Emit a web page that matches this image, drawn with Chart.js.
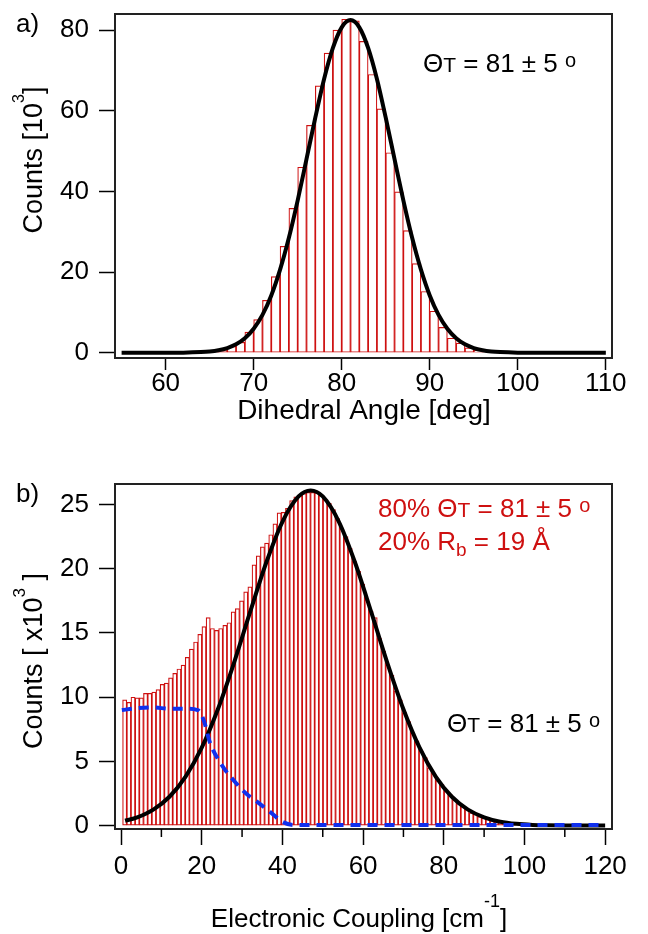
<!DOCTYPE html>
<html>
<head>
<meta charset="utf-8">
<script src="https://cdn.jsdelivr.net/npm/chart.js@4.4.0/dist/chart.umd.min.js"></script>
<style>
html, body { margin: 0; padding: 0; background: #fff; }
#wrap { position: relative; width: 648px; height: 934px; }
canvas { position: absolute; left: 0; }
</style>
</head>
<body>
<div id="wrap">
<canvas id="cA" width="648" height="465" style="top:0"></canvas>
<canvas id="cB" width="648" height="469" style="top:465px"></canvas>
</div>
<script>
// a) dihedral angle histogram, 1 deg bins, counts in 10^3
var angleBins = [64.5, 65.5, 66.5, 67.5, 68.5, 69.5, 70.5, 71.5, 72.5, 73.5, 74.5, 75.5, 76.5, 77.5, 78.5, 79.5, 80.5,
                 81.5, 82.5, 83.5, 84.5, 85.5, 86.5, 87.5, 88.5, 89.5, 90.5, 91.5, 92.5, 93.5, 94.5, 95.5, 96.5, 97.5];
var angleCounts = [0.1, 0.3, 0.8, 1.6, 2.6, 5.1, 8.2, 13.0, 18.9, 26.4, 35.8, 46.0, 56.4, 66.2, 74.3, 80.0, 82.7,
                   82.3, 77.2, 69.0, 60.5, 49.6, 39.9, 30.3, 22.1, 15.2, 10.3, 6.3, 3.6, 2.4, 1.2, 0.6, 0.3, 0.1];
var angleFitX = [55, 60, 62, 64, 65, 66, 67, 68, 69, 70, 71, 72, 73, 74, 75, 76, 77, 78, 79, 80, 81,
                 82, 83, 84, 85, 86, 87, 88, 89, 90, 91, 92, 93, 94, 95, 96, 97, 98, 100, 102, 105, 110];
var angleFitY = [0, 0.01, 0.03, 0.16, 0.32, 0.63, 1.17, 2.1, 3.6, 5.97, 9.4, 14.2, 20.6, 28.5, 37.8, 48.0, 58.3, 67.9, 75.6, 80.7, 82.5,
                 80.7, 75.6, 67.9, 58.3, 48.0, 37.8, 28.5, 20.6, 14.2, 9.4, 5.97, 3.6, 2.1, 1.17, 0.63, 0.32, 0.16, 0.03, 0.01, 0, 0];
var angleTicksX = [60, 70, 80, 90, 100, 110];
var angleTicksY = [0, 20, 40, 60, 80];

// b) electronic coupling histogram, counts in 10^3
var couplingBinStart = 0.9, couplingBinWidth = 1.035;
var couplingCounts = [9.8, 9.6, 10.0, 9.95, 9.95, 10.3, 10.3, 10.4, 10.6, 11.0, 11.1, 11.5, 11.85, 12.2, 12.5, 13.1,
                      13.75, 14.3, 14.9, 15.5, 16.2, 15.35, 15.2, 15.35, 15.6, 15.8, 16.65, 16.9,
                      17.5, 18.2, 18.6, 20.3, 21.0, 21.7, 22.0, 22.65, 23.5, 24.35, 24.4, 24.7, 25.3, 25.6, 25.7,
                      25.85, 25.95, 25.95, 25.9, 25.7, 25.4,
                      25.1, 24.6, 23.9, 23.1, 22.5, 21.6, 20.6, 19.8, 18.8, 17.6, 16.7, 16.2, 14.6, 13.6, 12.5, 11.7,
                      10.5, 9.8, 8.8, 8.1, 7.2, 6.6, 5.8, 5.3, 4.5, 4.1, 3.5, 3.2, 2.7, 2.4, 2.0, 1.8, 1.5, 1.3, 1.0,
                      0.9, 0.7, 0.6, 0.5, 0.4, 0.3, 0.25, 0.2, 0.15, 0.1, 0.08];
var couplingFitX = [1, 4, 8, 12, 16, 20, 24, 28, 32, 36, 40, 44, 47, 50, 54, 58, 62, 66, 70, 74, 78, 82, 86, 90,
                    94, 98, 102, 106, 110, 115, 120];
var couplingFitY = [0.38, 0.65, 1.25, 2.25, 3.82, 6.07, 9.06, 12.68, 16.64, 20.49, 23.66, 25.63, 26.1, 25.63, 23.66,
                    20.49, 16.64, 12.68, 9.06, 6.07, 3.82, 2.25, 1.25, 0.65, 0.31, 0.14, 0.06, 0.03, 0.02, 0.02, 0.02];
var rbX = [0.2, 4, 8, 12, 16, 19, 20.5, 22, 25, 28, 31, 34, 37, 40, 43, 60, 80, 100, 120];
var rbY = [9.0, 9.15, 9.2, 9.1, 9.1, 9.0, 8.2, 6.5, 4.7, 3.5, 2.5, 1.8, 1.05, 0.3, 0.05, 0.05, 0.05, 0.05, 0.05];
var couplingTicksX = [0, 10, 20, 30, 40, 50, 60, 70, 80, 90, 100, 110, 120];
var couplingTicksY = [0, 5, 10, 15, 20, 25];

var RED = 'rgb(206,16,16)';
var FAMILY = '"Liberation Sans", Arial, Helvetica, sans-serif';

function pts(xs, ys) {
	return xs.map(function(x, i) { return {x: x, y: ys[i]}; });
}

function rich(ctx, parts, x, y, align) {
	var w = 0;
	parts.forEach(function(p) {
		ctx.font = p[1] + 'px ' + FAMILY;
		w += ctx.measureText(p[0]).width;
	});
	var cx = align === 'center' ? x - w / 2 : x;
	ctx.textAlign = 'left';
	ctx.textBaseline = 'alphabetic';
	parts.forEach(function(p) {
		ctx.font = p[1] + 'px ' + FAMILY;
		ctx.fillText(p[0], cx, y + (p[2] || 0));
		cx += ctx.measureText(p[0]).width;
	});
}

function rotated(ctx, parts, x, y) {
	ctx.save();
	ctx.translate(x, y);
	ctx.rotate(-Math.PI / 2);
	rich(ctx, parts, 0, 0, 'center');
	ctx.restore();
}

function theta() {
	return [['\u0398', 26], ['T', 21], [' = 81 \u00b1 5 ', 26], ['o', 20, -5]];
}

function xAxis(min, max, ticks, height, majorEvery, tickLen, pad) {
	return {
		type: 'linear', min: min, max: max, offset: false,
		afterBuildTicks: function(s) { s.ticks = ticks.map(function(v) { return {value: v}; }); },
		afterFit: function(s) { s.height = height; s.paddingLeft = 0; s.paddingRight = 0; },
		border: {display: false},
		grid: {
			offset: false, drawOnChartArea: false, drawTicks: true, tickLength: tickLen, tickWidth: 1.5, color: '#000',
			tickColor: function(c) {
				if (majorEvery && c.tick && c.tick.value % majorEvery !== 0) return 'rgba(0,0,0,0)';
				return '#000';
			}
		},
		ticks: {
			autoSkip: false, maxRotation: 0, padding: pad, color: '#000',
			font: {family: FAMILY, size: 26},
			callback: function(v) { return (majorEvery && v % majorEvery !== 0) ? '' : String(v); }
		}
	};
}

function yAxis(min, max, ticks) {
	return {
		type: 'linear', min: min, max: max,
		afterBuildTicks: function(s) { s.ticks = ticks.map(function(v) { return {value: v}; }); },
		afterFit: function(s) { s.width = 115; s.paddingTop = 0; s.paddingBottom = 0; },
		border: {display: false},
		grid: {drawOnChartArea: false, drawTicks: true, tickLength: 16, tickWidth: 1.5, color: '#000'},
		ticks: {padding: 10, color: '#000', font: {family: FAMILY, size: 26}}
	};
}

var framePlugin = {
	id: 'frame',
	afterDraw: function(chart) {
		var a = chart.chartArea, ctx = chart.ctx;
		ctx.save();
		ctx.strokeStyle = '#222';
		ctx.lineWidth = 2;
		ctx.strokeRect(a.left, a.top, a.right - a.left, a.bottom - a.top);
		ctx.restore();
	}
};

var commonOpts = {
	responsive: false,
	animation: false,
	devicePixelRatio: 1,
	plugins: {legend: {display: false}, tooltip: {enabled: false}}
};

// ---------- a) ----------
new Chart(document.getElementById('cA'), {
	type: 'bar',
	data: {
		datasets: [
			{
				type: 'bar', data: pts(angleBins, angleCounts),
				backgroundColor: '#fff', borderColor: RED, borderWidth: 1.2, borderSkipped: false,
				categoryPercentage: 1, barPercentage: 1, order: 2
			},
			{
				type: 'line', data: pts(angleFitX, angleFitY),
				borderColor: '#000', borderWidth: 4, pointRadius: 0, cubicInterpolationMode: 'monotone', order: 1
			}
		]
	},
	options: Object.assign({}, commonOpts, {
		layout: {padding: {top: 14, right: 36, left: 0, bottom: 0}},
		scales: {
			x: xAxis(54.25, 110.7, angleTicksX, 107, 0, 12, -2),
			y: yAxis(-1.3, 84.0, angleTicksY)
		}
	}),
	plugins: [framePlugin, {
		id: 'textA',
		afterDraw: function(chart) {
			var ctx = chart.ctx;
			ctx.save();
			ctx.fillStyle = '#000';
			rich(ctx, [['a)', 26]], 16, 32);
			rich(ctx, [['Dihedral Angle [deg]', 28]], 364, 419, 'center');
			rotated(ctx, [['Counts [10', 27], ['3', 16, -18], [']', 27]], 42, 160);
			rich(ctx, theta(), 423, 72);
			ctx.restore();
		}
	}]
});

// ---------- b) ----------
var couplingBins = couplingCounts.map(function(v, i) { return couplingBinStart + i * couplingBinWidth; });

new Chart(document.getElementById('cB'), {
	type: 'bar',
	data: {
		datasets: [
			{
				type: 'bar', data: pts(couplingBins, couplingCounts),
				backgroundColor: '#fff', borderColor: RED, borderWidth: 1.2, borderSkipped: false,
				categoryPercentage: 1, barPercentage: 1, order: 3
			},
			{
				type: 'line', data: pts(couplingFitX, couplingFitY),
				borderColor: '#000', borderWidth: 4, pointRadius: 0, cubicInterpolationMode: 'monotone', order: 2
			},
			{
				type: 'line', data: pts(rbX, rbY),
				borderColor: '#1030ee', borderWidth: 4, borderDash: [10, 7], pointRadius: 0,
				cubicInterpolationMode: 'monotone', order: 1
			}
		]
	},
	options: Object.assign({}, commonOpts, {
		layout: {padding: {top: 19, right: 36, left: 0, bottom: 0}},
		scales: {
			x: xAxis(-1.5, 121.7, couplingTicksX, 105, 20, 16, 6),
			y: yAxis(-0.26, 26.6, couplingTicksY)
		}
	}),
	plugins: [framePlugin, {
		id: 'textB',
		afterDraw: function(chart) {
			var ctx = chart.ctx, a = chart.chartArea, xs = chart.scales.x;
			ctx.save();
			// minor ticks
			ctx.strokeStyle = '#000';
			ctx.lineWidth = 1.5;
			couplingTicksX.forEach(function(v) {
				if (v % 20 === 0) return;
				var px = xs.getPixelForValue(v);
				ctx.beginPath();
				ctx.moveTo(px, a.bottom);
				ctx.lineTo(px, a.bottom + 8);
				ctx.stroke();
			});
			ctx.fillStyle = '#000';
			rich(ctx, [['b)', 26]], 16, 37);
			rich(ctx, [['Electronic Coupling [cm', 26], ['-1', 18, -20], [']', 26]], 359, 462, 'center');
			rotated(ctx, [['Counts [ x10', 27], ['3', 17, -17], [' ]', 27]], 42, 196);
			rich(ctx, theta(), 447, 267);
			ctx.fillStyle = RED;
			rich(ctx, [['80% ', 26]].concat(theta()), 378, 52);
			rich(ctx, [['20% R', 26], ['b', 19, 6], [' = 19 \u00c5', 26]], 378, 85);
			ctx.restore();
		}
	}]
});
</script>
</body>
</html>
